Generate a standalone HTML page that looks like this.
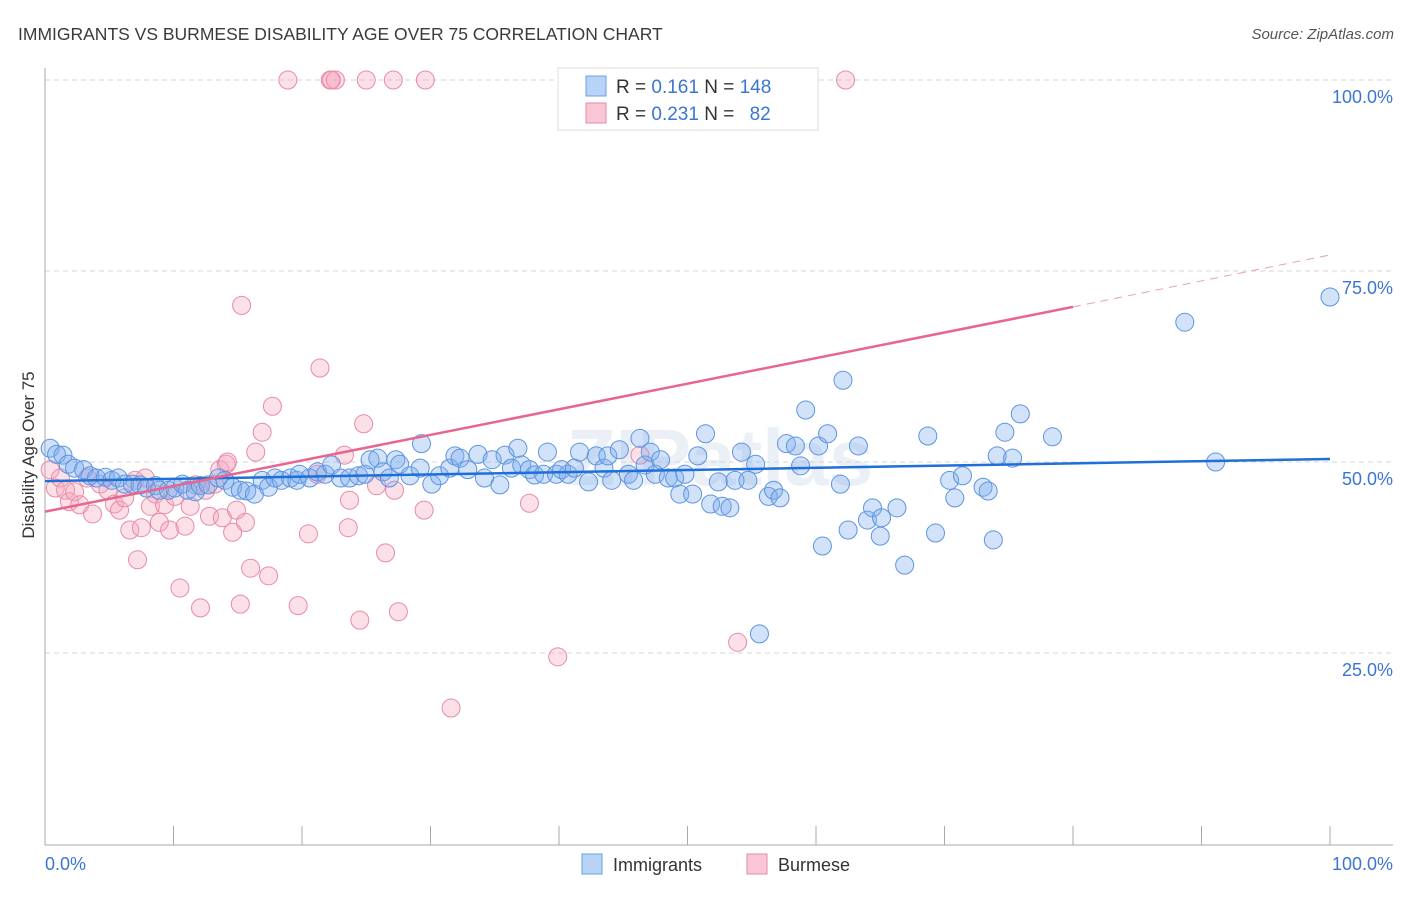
<!DOCTYPE html>
<html><head><meta charset="utf-8"><style>
body{margin:0;background:#fff;font-family:"Liberation Sans",sans-serif;}
svg text{font-family:"Liberation Sans",sans-serif;}
</style></head><body>
<svg id="chart" width="1406" height="892" xmlns="http://www.w3.org/2000/svg">
<text x="18" y="40" font-size="17.5" fill="#3a3a3a">IMMIGRANTS VS BURMESE DISABILITY AGE OVER 75 CORRELATION CHART</text>
<text x="1394" y="39" font-size="15" font-style="italic" fill="#555" text-anchor="end">Source: ZipAtlas.com</text>
<text x="720" y="485" font-size="80" font-weight="bold" fill="#d8e3ef" opacity="0.5" text-anchor="middle">ZIPatlas</text>
<g id="grid"></g>
<g id="axes"></g>
<g id="pinkPts"></g>
<g id="bluePts"></g>
<g id="trends"></g>
<text transform="translate(34,455) rotate(-90)" font-size="17" fill="#333" text-anchor="middle">Disability Age Over 75</text>
<g>
<rect x="558" y="68" width="260" height="62" fill="#fff" stroke="#ddd"/>
<rect x="586" y="76" width="20" height="20" fill="#b9d3f6" stroke="#6aa0e8"/>
<rect x="586" y="103" width="20" height="20" fill="#f9c6d5" stroke="#e88aa8"/>
<text x="616" y="93" font-size="19" fill="#333">R = <tspan fill="#3a75d6">0.161</tspan>   N = <tspan fill="#3a75d6">148</tspan></text>
<text x="616" y="120" font-size="19" fill="#333">R = <tspan fill="#3a75d6">0.231</tspan>   N =  <tspan fill="#3a75d6" dx="10">82</tspan></text>
</g>
<g>
<rect x="582" y="854" width="20" height="20" fill="#b9d3f6" stroke="#6aa0e8"/>
<text x="613" y="871" font-size="18" fill="#333">Immigrants</text>
<rect x="747" y="854" width="20" height="20" fill="#f9c6d5" stroke="#e88aa8"/>
<text x="778" y="871" font-size="18" fill="#333">Burmese</text>
</g>
</svg>
<script>
const yTicks=[100,75,50,25];
const yTickLabels=["100.0%","75.0%","50.0%","25.0%"];
const xTickVals=[0,10,20,30,40,50,60,70,80,90,100];
const xEndLabels=["0.0%","100.0%"];
const blueX=[0.4,0.9,1.4,1.8,2.3,3.0,3.5,4.0,4.7,5.2,5.7,6.2,6.8,7.4,7.9,8.6,8.9,9.6,10.1,10.7,11.1,11.7,12.1,12.7,13.5,14.0,14.6,15.2,15.7,16.3,16.9,17.4,17.9,18.4,19.1,19.6,19.8,20.6,21.2,21.8,22.3,23.0,23.7,24.4,24.9,25.3,25.9,26.3,26.8,27.3,27.6,28.4,29.2,29.3,30.1,30.7,31.5,31.9,32.3,32.9,33.7,34.2,34.8,35.4,35.8,36.3,36.8,37.1,37.7,38.1,38.8,39.1,39.8,40.2,40.7,41.2,41.6,42.3,42.9,43.5,43.8,44.1,44.7,45.4,45.8,46.3,46.7,47.1,47.5,47.9,48.5,49.0,49.4,49.8,50.4,50.8,51.4,51.8,52.4,52.7,53.3,53.7,54.2,54.7,55.3,55.6,56.3,56.7,57.2,57.7,58.4,58.8,59.2,60.2,60.5,60.9,62.1,61.9,62.5,63.3,64.0,64.4,65.0,65.1,66.3,66.9,68.7,69.3,70.4,70.8,71.4,73.0,73.4,73.8,74.1,74.7,75.3,75.9,78.4,88.7,91.1,100];
const blueY=[51.8,51.0,50.9,49.7,49.2,49.0,48.2,47.9,48.0,47.6,47.9,47.1,47.1,47.0,46.6,46.9,46.3,46.3,46.6,47.1,46.3,46.1,46.9,47.0,47.9,47.6,46.7,46.3,46.2,45.8,47.6,46.7,47.9,47.6,47.9,47.6,48.4,47.9,48.7,48.4,49.6,47.9,47.9,48.2,48.4,50.3,50.5,48.7,47.9,50.3,49.7,48.2,49.2,52.4,47.1,48.2,49.2,50.8,50.5,49.0,51.0,47.9,50.3,47.0,50.9,49.2,51.8,49.6,49.0,48.3,48.4,51.3,48.4,49.0,48.4,49.2,51.3,47.4,50.8,49.2,50.8,47.6,51.6,48.4,47.6,53.1,49.6,51.3,48.4,50.3,47.9,47.9,45.8,48.4,45.8,50.8,53.7,44.5,47.4,44.2,44.0,47.6,51.3,47.6,49.7,27.5,45.5,46.3,45.3,52.4,52.1,49.5,56.8,52.1,39.0,53.7,60.7,47.1,41.1,52.1,42.4,44.0,40.3,42.7,44.0,36.5,53.4,40.7,47.6,45.3,48.2,46.7,46.2,39.8,50.8,53.9,50.5,56.3,53.3,68.3,50.0,71.6];
const pinkX=[0.4,0.8,1.2,1.6,1.9,2.3,2.7,3.3,3.7,4.3,4.9,5.4,5.8,6.2,6.6,7.0,7.2,7.5,7.8,8.2,8.6,8.9,9.3,9.7,10.1,10.5,10.9,11.3,11.7,12.1,12.5,12.8,13.2,13.6,13.8,14.1,14.2,14.6,14.9,15.2,15.3,15.6,16.0,16.4,16.9,17.4,17.7,18.9,19.7,20.5,21.4,21.2,22.2,22.3,22.6,23.3,23.6,23.7,24.5,24.8,25.0,25.8,26.5,27.1,27.2,27.5,29.5,29.6,31.6,37.7,39.9,46.3,53.9,62.3];
const pinkY=[49.0,46.6,47.9,46.3,44.8,46.1,44.4,47.9,43.2,47.1,46.3,44.5,43.7,45.3,41.1,47.6,37.2,41.4,47.9,44.2,45.8,42.1,44.4,41.1,45.5,33.5,41.6,44.2,47.0,30.9,46.3,42.9,47.1,49.0,42.7,49.7,50.0,40.8,43.7,31.4,70.5,42.1,36.1,51.3,53.9,35.1,57.3,100,31.2,40.6,62.3,48.4,100,100,100,50.9,41.4,45.0,29.3,55.0,100,46.9,38.1,100,46.3,30.4,43.7,100,17.8,44.6,24.5,50.9,26.4,100];
const blueTrend=[47.5,50.4];
const pinkTrend=[43.5,70.3,77.1];
const pinkSolidEnd=80;

const NS="http://www.w3.org/2000/svg";
const X0=45,X1=1330,Y0=844,Y100=80;
function sx(v){return X0+(X1-X0)*v/100;}
function sy(v){return Y0-(Y0-Y100)*v/100;}
function mk(tag,attrs,parent){const e=document.createElementNS(NS,tag);for(const k in attrs)e.setAttribute(k,attrs[k]);parent.appendChild(e);return e;}
const grid=document.getElementById('grid'),axes=document.getElementById('axes');
yTicks.forEach((t,i)=>{
 const l=mk('line',{x1:X0,x2:1393,y1:sy(t),y2:sy(t),stroke:'#d5d5d5','stroke-dasharray':'5,4'},grid);
 
 
 const tx=mk('text',{x:1393,y:sy(t)+23,'font-size':18,fill:'#3a75d6','text-anchor':'end'},grid);
 tx.textContent=yTickLabels[i];
 
 
});
const ax=mk('line',{x1:X0,x2:X0,y1:68,y2:845,stroke:'#aaa'},axes);


const bx=mk('line',{x1:X0,x2:1393,y1:845,y2:845,stroke:'#aaa'},axes);


xTickVals.forEach(v=>{
 const t=mk('line',{x1:sx(v),x2:sx(v),y1:826,y2:845,stroke:'#aaa'},axes);
 
 
});
const xl0=mk('text',{x:45,y:870,'font-size':18,fill:'#3a75d6'},axes);xl0.textContent=xEndLabels[0];


const xl1=mk('text',{x:1393,y:870,'font-size':18,fill:'#3a75d6','text-anchor':'end'},axes);xl1.textContent=xEndLabels[1];



const pg=document.getElementById('pinkPts');
pinkX.forEach((x,i)=>{
 const c=mk('circle',{cx:sx(x),cy:sy(pinkY[i]),r:9,fill:'rgba(246,165,190,0.35)',stroke:'#e88aa8','stroke-width':1},pg);
 
 
});
const bg=document.getElementById('bluePts');
blueX.forEach((x,i)=>{
 const c=mk('circle',{cx:sx(x),cy:sy(blueY[i]),r:9,fill:'rgba(125,172,238,0.35)',stroke:'#5d95e0','stroke-width':1},bg);
 
 
});
const tg=document.getElementById('trends');
const bt=mk('line',{x1:sx(0),y1:sy(blueTrend[0]),x2:sx(100),y2:sy(blueTrend[1]),stroke:'#1f6fd8','stroke-width':2.5},tg);


const pt=mk('line',{x1:sx(0),y1:sy(pinkTrend[0]),x2:sx(pinkSolidEnd),y2:sy(pinkTrend[1]),stroke:'#e8658f','stroke-width':2.5},tg);


const pd=mk('line',{x1:sx(pinkSolidEnd),y1:sy(pinkTrend[1]),x2:sx(100),y2:sy(pinkTrend[2]),stroke:'#e8a0b6','stroke-width':1,'stroke-dasharray':'8,6'},tg);


</script>
</body></html>
